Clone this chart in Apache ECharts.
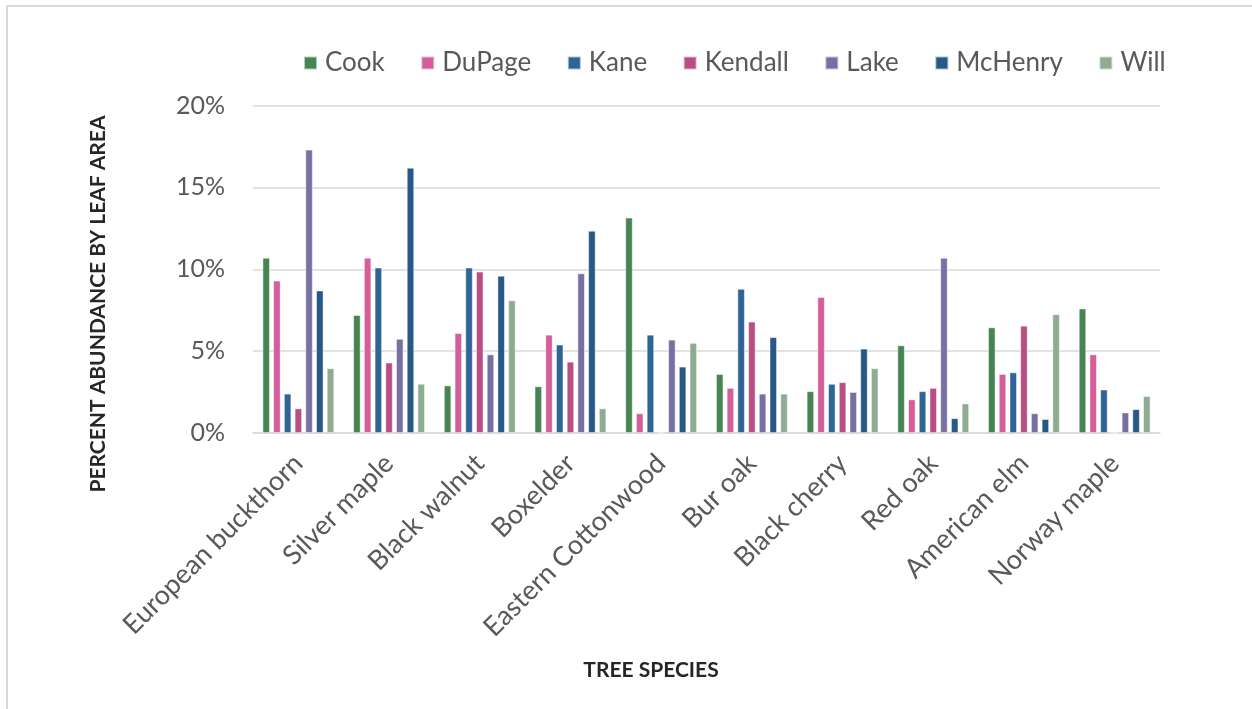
<!DOCTYPE html>
<html>
<head>
<meta charset="utf-8">
<title>Percent abundance by leaf area</title>
<script src="https://cdn.jsdelivr.net/npm/echarts@6/dist/echarts.min.js"></script>
<style>
  html, body { margin: 0; padding: 0; background: #ffffff; }
  #chart { width: 1252px; height: 709px; }
</style>
</head>
<body>
<div id="chart"></div>
<script>
// Tree species (x categories)
const species = [
  'European buckthorn', 'Silver maple', 'Black walnut', 'Boxelder',
  'Eastern Cottonwood', 'Bur oak', 'Black cherry', 'Red oak',
  'American elm', 'Norway maple'
];

// Percent abundance by leaf area, one array per county
const cook    = [10.7, 7.2, 2.9, 2.85, 13.15, 3.6, 2.55, 5.35, 6.45, 7.6];
const dupage  = [9.3, 10.7, 6.1, 6.0, 1.2, 2.75, 8.3, 2.05, 3.6, 4.8];
const kane    = [2.4, 10.1, 10.1, 5.4, 6.0, 8.8, 3.0, 2.55, 3.7, 2.65];
const kendall = [1.5, 4.3, 9.85, 4.35, 0, 6.8, 3.1, 2.75, 6.55, 0];
const lake    = [17.3, 5.75, 4.8, 9.75, 5.7, 2.4, 2.5, 10.7, 1.2, 1.25];
const mchenry = [8.7, 16.2, 9.6, 12.35, 4.05, 5.85, 5.15, 0.9, 0.85, 1.45];
const will    = [3.95, 3.0, 8.1, 1.5, 5.5, 2.4, 3.95, 1.8, 7.25, 2.25];

const counties = ['Cook', 'DuPage', 'Kane', 'Kendall', 'Lake', 'McHenry', 'Will'];
const countyValues = [cook, dupage, kane, kendall, lake, mchenry, will];
const countyColors = ['#468453', '#d35e9a', '#2e6496', '#b94e85', '#7870a1', '#275886', '#8fab92'];

// Y axis ticks
const yMin = 0;
const yMax = 20;
const yStep = 5;

const FONT = 'Lato, "Open Sans", sans-serif';

const chart = echarts.init(document.getElementById('chart'), null, { renderer: 'canvas' });

const series = counties.map((name, i) => ({
  name: name,
  type: 'bar',
  data: countyValues[i],
  barGap: '46%',
  barCategoryGap: '21%',
  itemStyle: {
    color: countyColors[i],
    borderColor: 'rgba(255,255,255,0.6)',
    borderWidth: 0.8
  }
}));

chart.setOption({
  animation: false,
  backgroundColor: '#ffffff',
  legend: {
    left: 298,
    top: 45,
    icon: 'rect',
    itemWidth: 13,
    itemHeight: 13,
    itemGap: 35.5,
    data: counties,
    textStyle: {
      fontFamily: FONT,
      fontSize: 26,
      color: '#595959',
      padding: [0, 0, 0, 3]
    }
  },
  grid: {
    left: 253,
    right: 92,
    top: 105.5,
    bottom: 276,
    containLabel: false
  },
  xAxis: {
    type: 'category',
    data: species,
    axisLine: { show: true, lineStyle: { color: '#d9d9d9', width: 1.5 } },
    axisTick: { show: false },
    axisLabel: {
      rotate: 45,
      interval: 0,
      margin: 26,
      fontFamily: FONT,
      fontSize: 27,
      color: '#595959'
    }
  },
  yAxis: {
    type: 'value',
    min: yMin,
    max: yMax,
    interval: yStep,
    axisLine: { show: false },
    axisTick: { show: false },
    splitLine: { lineStyle: { color: '#d9d9d9', width: 1.5 } },
    axisLabel: {
      margin: 28,
      fontFamily: FONT,
      fontSize: 25,
      color: '#595959',
      formatter: '{value}%'
    }
  },
  graphic: [
    {
      type: 'rect',
      shape: { x: 7, y: 6, width: 1300, height: 800 },
      style: { fill: 'none', stroke: '#d9d9d9', lineWidth: 2 },
      silent: true
    },
    {
      type: 'text',
      x: 651,
      y: 670,
      style: {
        text: 'TREE SPECIES',
        fontFamily: FONT,
        fontWeight: 'bold',
        fontSize: 21,
        fill: '#262626',
        align: 'center',
        verticalAlign: 'middle'
      }
    },
    {
      type: 'text',
      x: 98,
      y: 304,
      rotation: Math.PI / 2,
      style: {
        text: 'PERCENT ABUNDANCE BY LEAF AREA',
        fontFamily: FONT,
        fontWeight: 'bold',
        fontSize: 21,
        fill: '#262626',
        align: 'center',
        verticalAlign: 'middle'
      }
    }
  ],
  series: series
});
</script>
</body>
</html>
